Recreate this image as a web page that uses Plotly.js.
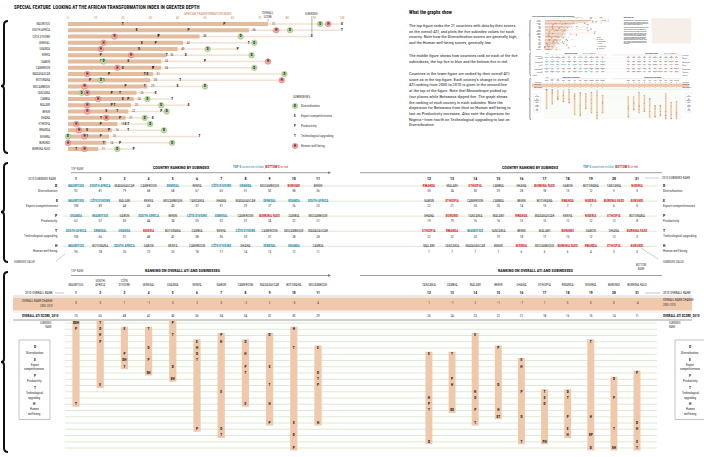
<!DOCTYPE html>
<html><head><meta charset="utf-8">
<script src="https://cdn.plot.ly/plotly-3.0.1.min.js"></script>
<style>
html,body{margin:0;padding:0;background:#fff;overflow:hidden;width:704px;height:457px}
#chart{position:absolute;left:0;top:0;width:704px;height:457px}
#thumb{position:absolute;left:529px;top:15px;width:704px;height:457px;transform:scale(0.2315);transform-origin:0 0}
</style></head>
<body><div id="chart"></div><div id="thumb"></div>
<script>
// ================= DATA =================
const countries = ["Mauritius","South Africa","Côte d'Ivoire","Senegal","Uganda","Kenya","Gabon","Cameroon","Madagascar","Botswana","Mozambique","Tanzania","Zambia","Malawi","Benin","Ghana","Ethiopia","Rwanda","Nigeria","Burundi","Burkina Faso"];
const headerLabels = ["MAURITIUS","SOUTH<br>AFRICA","CÔTE<br>D'IVOIRE","SENEGAL","UGANDA","KENYA","GABON","CAMEROON","MADAGASCAR","BOTSWANA","MOZAMBIQUE","TANZANIA","ZAMBIA","MALAWI","BENIN","GHANA","ETHIOPIA","RWANDA","NIGERIA","BURUNDI","BURKINA FASO"];
const overallScore = [73,66,48,42,40,36,34,34,31,30,29,25,24,23,22,21,18,16,15,14,11];
const rankChange = [0,0,1,-1,5,2,0,-2,2,-5,4,1,-1,2,-1,-7,1,5,0,0,-4];

// subindex rankings (rank order) and values
const dOrder = ["Mauritius","South Africa","Madagascar","Cameroon","Senegal","Kenya","Côte d'Ivoire","Uganda","Mozambique","Burundi","Benin","Rwanda","Malawi","Ethiopia","Zambia","Ghana","Burkina Faso","Gabon","Botswana","Tanzania","Nigeria"];
const dValues = [92,81,79,68,68,67,63,51,50,38,36,35,34,30,29,28,18,13,12,5,0];
const eOrder = ["Mauritius","Côte d'Ivoire","Malawi","Kenya","Mozambique","Tanzania","Ghana","Madagascar","Senegal","Uganda","South Africa","Gabon","Ethiopia","Cameroon","Zambia","Benin","Botswana","Rwanda","Nigeria","Burkina Faso","Burundi"];
const eValues = [100,89,44,43,40,32,31,29,27,26,25,22,21,20,20,14,13,7,7,6,0];
const pOrder = ["Uganda","Mauritius","Gabon","South Africa","Benin","Côte d'Ivoire","Senegal","Cameroon","Burkina Faso","Zambia","Mozambique","Ghana","Burundi","Tanzania","Malawi","Rwanda","Madagascar","Kenya","Nigeria","Ethiopia","Botswana"];
const pValues = [62,57,50,44,34,33,32,31,24,22,21,19,19,16,16,15,15,12,12,12,8];
const tOrder = ["South Africa","Senegal","Uganda","Nigeria","Botswana","Zambia","Kenya","Côte d'Ivoire","Cameroon","Mozambique","Madagascar","Ethiopia","Rwanda","Mauritius","Tanzania","Benin","Malawi","Burundi","Gabon","Ghana","Burkina Faso"];
const tValues = [100,66,51,48,41,38,36,33,31,28,28,22,22,20,19,18,17,13,12,12,3];
const hOrder = ["Mauritius","Botswana","South Africa","Gabon","Kenya","Cameroon","Côte d'Ivoire","Ghana","Senegal","Uganda","Zambia","Malawi","Tanzania","Madagascar","Benin","Nigeria","Mozambique","Burkina Faso","Rwanda","Ethiopia","Burundi"];
const hValues = [95,78,76,73,23,18,17,14,13,12,11,7,7,7,7,6,6,6,4,3,0];

const subLetters = ["D","E","P","T","H"];
const subNames = ["Diversification","Export competitiveness","Productivity","Technological upgrading","Human well-being"];
const axisTicks = [0,10,20,30,40,50,60,70,80,90,100];

// ================= HELPERS =================
const W = 704, H = 457;
const X = x => x / W, Y = y => 1 - y / H;
const ctx = document.createElement('canvas').getContext('2d');
const SAMPLE = 'The top figure ranks the 21 countries WITH DATA by their';
function tw(fam){ ctx.font = '40px ' + fam; return ctx.measureText(SAMPLE).width; }
function hasFont(n){ return tw('"' + n + '", monospace') !== tw('monospace'); }
const CANDS = ['Liberation Sans Narrow','Roboto Condensed','Open Sans Condensed','DejaVu Sans Condensed'];
const NARROW = CANDS.find(hasFont) || 'Liberation Sans';
let FS = 0.82 * tw('"Liberation Sans"') / tw('"' + NARROW + '"');
FS = Math.max(0.75, Math.min(1.1, FS));
const FAM = NARROW + ', Liberation Sans, sans-serif';
function F(size, color, weight){ return {family: FAM, size: size * FS, color: color || '#222', weight: weight || 'normal'}; }

const orders = [dOrder, eOrder, pOrder, tOrder, hOrder];
const values = [dValues, eValues, pValues, tValues, hValues];
const valueOf = (si, c) => values[si][orders[si].indexOf(c)];
const rankOf = (si, c) => orders[si].indexOf(c) + 1;
const top5 = new Set(countries.slice(0, 5));
const bottom5 = new Set(countries.slice(-5));
const BLUE = '#2b8fae', RED = '#d42a2f', TAN = '#e3bb9d', PALE = '#f4e0d1', BAR2 = '#f0c9ad', GREEN = '#d3e6c4';

function A(x, y, text, size, o){
  o = o || {};
  return Object.assign({xref:'paper', yref:'paper', x:X(x), y:Y(y), text:text, showarrow:false,
    font:F(size, o.color, o.weight), xanchor:o.xa || 'left', yanchor:o.ya || 'middle',
    align:o.align || 'left', borderpad:0}, o.extra || {});
}
function Ln(x0, y0, x1, y1, color, w){
  return {type:'line', xref:'paper', yref:'paper', x0:X(x0), y0:Y(y0), x1:X(x1), y1:Y(y1), line:{color:color, width:w}, layer:'below'};
}
function Arrow(x0, x1, y){
  return {xref:'paper', yref:'paper', axref:'paper', ayref:'paper', x:X(x1), y:Y(y), ax:X(x0), ay:Y(y),
    showarrow:true, arrowhead:2, arrowsize:0.8, arrowwidth:0.7, arrowcolor:'#777', text:' ', standoff:0};
}
function bracket(y0, ym, y1){
  const p = (x, y) => X(x).toFixed(5) + ',' + Y(y).toFixed(5);
  return {type:'path', xref:'paper', yref:'paper', line:{color:'#111', width:2},
    path:'M' + p(8, y0) + ' Q' + p(4, y0) + ' ' + p(4, y0 + 4) + ' L' + p(4, ym - 3) + ' Q' + p(4, ym) + ' ' + p(1, ym) +
      ' Q' + p(4, ym) + ' ' + p(4, ym + 3) + ' L' + p(4, y1 - 4) + ' Q' + p(4, y1) + ' ' + p(8, y1)};
}

function build(isThumb){
  const data = [];
  const ann = [];
  const shapes = [];
  const rows = countries.map((c, i) => i + 1);

  // ---------- TOP FIGURE ----------
  const maxVal = countries.map((c, i) => Math.max(overallScore[i], ...subLetters.map((s, si) => valueOf(si, c))));
  data.push({type:'bar', orientation:'h', x:maxVal, y:rows, width:0.22, marker:{color:PALE}, xaxis:'x', yaxis:'y'});
  data.push({type:'bar', orientation:'h', x:overallScore, y:rows, width:0.62, marker:{color:TAN}, xaxis:'x', yaxis:'y'});
  data.push({type:'scatter', mode:'text', x:overallScore.map(v => v + 1.9), y:rows, text:overallScore.map(String),
    textfont:F(3.4, '#444'), xaxis:'x', yaxis:'y', cliponaxis:false});
  data.push({type:'scatter', mode:'text', x:rows.map(() => -2.3), y:rows, text:rows.map(String),
    textfont:F(3.4, '#333'), xaxis:'x', yaxis:'y', cliponaxis:false});
  [1, 2, 3].forEach(si => {
    data.push({type:'scatter', mode:'text', x:countries.map(c => valueOf(si, c)), y:rows,
      text:rows.map(() => subLetters[si]), textfont:F(3.8, '#111', 'bold'), xaxis:'x', yaxis:'y', cliponaxis:false});
  });
  [[0, '#bcdca6', '#8fc178'], [4, '#f4a9a5', '#e1706b']].forEach(([si, fill, line]) => {
    data.push({type:'scatter', mode:'markers+text', x:countries.map(c => valueOf(si, c)), y:rows,
      text:rows.map(() => subLetters[si]), textfont:F(3.6, '#111', 'bold'),
      marker:{size:5.6, color:fill, line:{color:line, width:0.5}}, xaxis:'x', yaxis:'y', cliponaxis:false});
  });

  ann.push(A(13, 6.5, 'SPECIAL FEATURE  LOOKING AT THE AFRICAN TRANSFORMATION INDEX IN GREATER DEPTH', 5.3, {weight:'bold', color:'#111'}));
  ann.push(A(208, 13.5, 'AFRICAN TRANSFORMATION INDEX', 3.6, {xa:'center', color:'#c9834f'}));
  ann.push({xref:'x', yref:'y', x:overallScore[0], y:0.6, ax:0, ay:-7, text:'OVERALL<br>SCORE', showarrow:true,
    arrowhead:0, arrowwidth:0.5, arrowcolor:'#666', font:F(3.3, '#444'), standoff:0, borderpad:0});
  ann.push({xref:'x', yref:'y', x:valueOf(1, countries[2]), y:2.55, ax:0, ay:-20, text:'SUBINDEX', showarrow:true,
    arrowhead:0, arrowwidth:0.5, arrowcolor:'#666', font:F(3.3, '#444'), standoff:0, borderpad:0});
  // legend
  ann.push(A(292, 97, 'SUBINDEXES', 3.6, {color:'#333'}));
  subLetters.forEach((s, si) => {
    const y = 106 + si * 10;
    if (si === 0 || si === 4) shapes.push({type:'circle', xref:'paper', yref:'paper', x0:X(292.4), x1:X(297.8), y0:Y(y + 2.7), y1:Y(y - 2.7),
      fillcolor:si === 0 ? '#bcdca6' : '#f4a9a5', line:{color:si === 0 ? '#8fc178' : '#e1706b', width:0.5}});
    ann.push(A(295.1, y, s, 3.6, {xa:'center', weight:'bold', color:'#111'}));
    ann.push(A(299.5, y, subNames[si], 3.6, {color:'#333'}));
  });

  // ---------- TEXT BLOCK ----------
  ann.push(A(408, 12, 'What the graphs show', 5.2, {weight:'bold', color:'#111'}));
  ann.push(A(408, 34.3, 'The top figure ranks the 21 countries with data by their scores<br>on the overall ATI, and plots the five subindex values for each<br>country. Note how the Diversification scores are generally high,<br>and the Human well-being scores, generally low.', 4.7, {color:'#222'}));
  ann.push(A(408, 58.1, 'The middle figure shows how countries rank on each of the five<br>subindexes, the top five in blue and the bottom five in red.', 4.7, {color:'#222'}));
  ann.push(A(408, 99.3, 'Countries in the lower figure are ranked by their overall ATI<br>score as in the top figure. Each country’s change in overall<br>ATI ranking from 2000 to 2010 is given in the second line<br>at the top of the figure. Note that Mozambique picked up<br>four places while Botswana dipped five. The graph shows<br>the ranking of each country in each subindex. Note the<br>dispersion for Botswana from third on Human well-being to<br>last on Productivity increases. Also note the dispersion for<br>Nigeria—from fourth on Technological upgrading to last on<br>Diversification.', 4.7, {color:'#222'}));
  if (isThumb) shapes.push({type:'rect', xref:'paper', yref:'paper', x0:X(530), x1:X(700), y0:Y(122), y1:Y(14), fillcolor:'#f6eee8', line:{width:0}});

  // ---------- MIDDLE FIGURE ----------
  const legendSpan = '<span style="color:' + BLUE + '"><b>TOP 5</b> countries in blue,</span> <span style="color:' + RED + '"><b>BOTTOM 5</b> in red</span>';
  ann.push(A(70, 168.5, 'TOP RANK', 3.2, {color:'#555'}));
  ann.push(A(181, 167, 'COUNTRY RANKING BY SUBINDEX', 4.4, {xa:'center', weight:'bold', color:'#111'}));
  ann.push(A(232, 167, legendSpan, 3.6));
  ann.push(Arrow(68, 331, 172.7));
  ann.push(A(530, 167, 'COUNTRY RANKING BY SUBINDEX', 4.4, {xa:'center', weight:'bold', color:'#111'}));
  ann.push(A(582, 167, legendSpan, 3.6));
  shapes.push(Ln(360, 172.7, 662, 172.7, '#777', 0.7));
  ann.push(A(57, 179, '2010 SUBINDEX RANK', 3.4, {xa:'right', color:'#333'}));
  ann.push(A(661, 178, '2010 SUBINDEX RANK', 3.4, {color:'#333'}));
  shapes.push(Ln(645, 178, 659, 178, '#999', 0.5));
  const midY = i => 186 + 15.1 * i;
  subLetters.forEach((s, si) => {
    shapes.push(Ln(63, midY(si), 657, midY(si), GREEN, 0.8));
    ann.push(A(59, midY(si) - 0.5, s, 4.2, {xa:'right', weight:'bold', color:'#111'}));
    ann.push(A(59, midY(si) + 5, subNames[si], 3.7, {xa:'right', color:'#333'}));
    ann.push(A(662, midY(si) - 0.5, s, 4.2, {weight:'bold', color:'#111'}));
    ann.push(A(662, midY(si) + 5, subNames[si], 3.7, {color:'#333'}));
  });
  ann.push(A(13, 262, 'SUBINDEX VALUE', 3.2, {color:'#444'}));
  shapes.push(Ln(56, 261, 65, 254, '#999', 0.5));
  ann.push(A(662, 262, 'SUBINDEX VALUE', 3.2, {color:'#444'}));
  shapes.push(Ln(641, 248, 658, 259, '#999', 0.5));

  function midTraces(lo, hi, xa){
    const x = [], y = [], t = [], v = [], col = [];
    subLetters.forEach((s, si) => {
      for (let r = lo; r <= hi; r++) {
        const c = orders[si][r - 1];
        x.push(r); y.push(si);
        const nm = c.toUpperCase();
        if (top5.has(c)) { t.push('<b>' + nm + '</b>'); col.push(BLUE); }
        else if (bottom5.has(c)) { t.push('<b>' + nm + '</b>'); col.push(RED); }
        else { t.push(nm); col.push('#333'); }
        v.push(String(values[si][r - 1]));
      }
    });
    const rk = []; for (let r = lo; r <= hi; r++) rk.push(r);
    return [
      {type:'scatter', mode:'text', x:x, y:y, text:t, textfont:Object.assign(F(3.6), {color:col}), xaxis:xa, yaxis:'y2', cliponaxis:false},
      {type:'scatter', mode:'text', x:x, y:y.map(q => q + 0.36), text:v, textfont:F(3.6, '#333'), xaxis:xa, yaxis:'y2', cliponaxis:false},
      {type:'scatter', mode:'text', x:rk, y:rk.map(() => -0.46), text:rk.map(String), textfont:F(4.2, '#111', 'bold'), xaxis:xa, yaxis:'y2', cliponaxis:false}
    ];
  }
  data.push(...midTraces(1, 11, 'x2'), ...midTraces(12, 21, 'x3'));

  // ---------- BOTTOM FIGURE ----------
  ann.push(A(70, 271, 'TOP RANK', 3.2, {color:'#555'}));
  ann.push(A(183, 270, 'RANKING ON OVERALL ATI AND SUBINDEXES', 4.4, {xa:'center', weight:'bold', color:'#111'}));
  ann.push(Arrow(68, 331, 275.5));
  ann.push(A(536, 270, 'RANKING ON OVERALL ATI AND SUBINDEXES', 4.4, {xa:'center', weight:'bold', color:'#111'}));
  ann.push(A(641, 267, 'BOTTOM<br>RANK', 3.1, {xa:'center', align:'center', color:'#444'}));
  shapes.push(Ln(360, 275.5, 662, 275.5, '#777', 0.7));
  shapes.push({type:'rect', xref:'paper', yref:'paper', x0:X(13), x1:X(692), y0:Y(310.5), y1:Y(297.5), fillcolor:BAR2, line:{width:0}, layer:'below'});
  shapes.push(Ln(13, 296, 692, 296, '#bbb', 0.6));
  shapes.push(Ln(13, 312, 692, 312, '#ccc', 0.5));
  shapes.push(Ln(13, 320, 692, 320, '#888', 0.8));
  ann.push(A(54, 293, '2010 OVERALL RANK', 3.5, {xa:'right', color:'#222'}));
  shapes.push(Ln(55, 293, 64, 293, '#888', 0.5));
  ann.push(A(54, 300.5, 'OVERALL RANK CHANGE', 3.3, {xa:'right', color:'#333'}));
  ann.push(A(54, 305.5, '2000–2010', 3, {xa:'right', color:'#333'}));
  ann.push(A(60, 316, 'OVERALL ATI SCORE, 2010', 3.6, {xa:'right', weight:'bold', color:'#111'}));
  ann.push(A(662, 293, '2010 OVERALL RANK', 3.5, {color:'#222'}));
  shapes.push(Ln(645, 293, 660, 293, '#888', 0.5));
  ann.push(A(662, 299.5, 'OVERALL RANK CHANGE', 3.3, {color:'#333'}));
  ann.push(A(662, 304.5, '2000–2010', 3, {color:'#333'}));
  ann.push(A(662, 316, 'OVERALL ATI SCORE, 2010', 3.6, {weight:'bold', color:'#111'}));
  ann.push(A(53, 324.5, 'SUBINDEX<br>RANK', 3, {xa:'right', align:'right', color:'#444'}));
  ann.push(A(668, 324.5, 'SUBINDEX<br>RANK', 3, {color:'#444'}));
  const subRanks = countries.map((c, i) => i + 1);
  subRanks.forEach(r => shapes.push({type:'line', xref:'paper', yref:'y4', x0:X(65), x1:X(657), y0:r, y1:r, line:{color:GREEN, width:0.8}, layer:'below'}));

  function bottomTraces(idx, xa, leftX, rightX){
    const xs = idx.map(i => i + 1);
    const ranks = idx.map(i => subLetters.map((s, si) => rankOf(si, countries[i])));
    const mins = ranks.map(r => Math.min(...r)), maxs = ranks.map(r => Math.max(...r));
    const lx = [], ly = [], lt = [];
    idx.forEach((i, k) => {
      const by = {};
      ranks[k].forEach((r, si) => { by[r] = (by[r] || '') + subLetters[si]; });
      Object.keys(by).forEach(r => { lx.push(i + 1); ly.push(+r); lt.push(by[r]); });
    });
    const out = [
      {type:'bar', x:xs, y:maxs.map((m, k) => m - mins[k] + 0.8), base:mins.map(m => m - 0.4), width:0.3, marker:{color:BAR2}, xaxis:xa, yaxis:'y4'},
      {type:'scatter', mode:'text', x:lx, y:ly, text:lt, textfont:F(3.8, '#111', 'bold'), xaxis:xa, yaxis:'y4', cliponaxis:false},
      {type:'scatter', mode:'text', x:xs, y:xs.map(() => -4.75), text:idx.map(i => headerLabels[i]), textposition:'top center', textfont:F(3.5, '#333'), xaxis:xa, yaxis:'y4', cliponaxis:false},
      {type:'scatter', mode:'text', x:xs, y:xs.map(() => -3.8), text:idx.map(i => String(i + 1)), textfont:F(3.9, '#111', 'bold'), xaxis:xa, yaxis:'y4', cliponaxis:false},
      {type:'scatter', mode:'text', x:xs, y:xs.map(() => -2.15), text:idx.map(i => rankChange[i] < 0 ? '−' + Math.abs(rankChange[i]) : String(rankChange[i])), textfont:F(3.5, '#333'), xaxis:xa, yaxis:'y4', cliponaxis:false},
      {type:'scatter', mode:'text', x:xs, y:xs.map(() => -0.12), text:idx.map(i => String(overallScore[i])), textfont:F(3.5, '#222'), xaxis:xa, yaxis:'y4', cliponaxis:false}
    ];
    if (leftX !== null) out.push({type:'scatter', mode:'text', x:subRanks.map(() => leftX), y:subRanks, text:subRanks.map(String), textfont:F(3.2, '#444'), xaxis:xa, yaxis:'y4', cliponaxis:false});
    if (rightX !== null) out.push({type:'scatter', mode:'text', x:subRanks.map(() => rightX), y:subRanks, text:subRanks.map(String), textfont:F(3.2, '#444'), xaxis:xa, yaxis:'y4', cliponaxis:false});
    return out;
  }
  const leftIdx = countries.map((c, i) => i).slice(0, 11), rightIdx = countries.map((c, i) => i).slice(11);
  data.push(...bottomTraces(leftIdx, 'x4', 0.38, null), ...bottomTraces(rightIdx, 'x5', null, 22.13));

  // legend boxes
  const boxLines = [['<b>D</b>', 347], ['Diversification', 352.5], ['<b>E</b>', 360], ['Export', 364.5], ['competitiveness', 369],
    ['<b>P</b>', 376], ['Productivity', 381], ['<b>T</b>', 387.5], ['Technological', 392.5], ['upgrading', 397.5],
    ['<b>H</b>', 403.5], ['Human', 408.5], ['well-being', 413.5]];
  [[19, 50, 34.5], [675, 712, 690]].forEach(([x0, x1, cx]) => {
    shapes.push({type:'rect', xref:'paper', yref:'paper', x0:X(x0), x1:X(x1), y0:Y(419.5), y1:Y(340), line:{color:'#999', width:0.6}, fillcolor:'rgba(0,0,0,0)'});
    boxLines.forEach(([t, y]) => ann.push(A(cx, y, t, t.startsWith('<b>') ? 4 : 3.3, {xa:'center', color:'#222'})));
  });

  // brackets
  shapes.push(bracket(21, 86, 153), bracket(163, 212, 262), bracket(272, 362, 452));

  const hid = {visible:false, fixedrange:true};
  const layout = {
    width:W, height:H, margin:{l:0, r:0, t:0, b:0, pad:0}, paper_bgcolor:'#fff', plot_bgcolor:'rgba(0,0,0,0)',
    showlegend:false, barmode:'overlay', font:{family:FAM},
    xaxis:{domain:[X(68), X(342)], range:[0, 100], side:'top', anchor:'y', tickmode:'array', tickvals:axisTicks,
      ticktext:axisTicks.map(String), tickfont:F(3.6, '#cf8a55'), ticks:'', showgrid:false, zeroline:false, showline:false},
    yaxis:{domain:[Y(152.125), Y(20.875)], range:[21.5, 0.5], anchor:'x', tickmode:'array', tickvals:rows,
      ticktext:countries.map(c => c.toUpperCase()), tickfont:F(3.2, '#333'), ticks:'', showgrid:false, zeroline:false, showline:false,
      ticklabelstandoff:17, fixedrange:true},
    xaxis2:Object.assign({domain:[X(63.9), X(330.1)], range:[0.5, 11.5], anchor:'y2'}, hid),
    xaxis3:Object.assign({domain:[X(417.4), X(648.6)], range:[11.5, 21.5], anchor:'y2'}, hid),
    yaxis2:Object.assign({domain:[Y(258.5), Y(158.8)], range:[4.8, -1.8], anchor:'x2'}, hid),
    xaxis4:Object.assign({domain:[X(63.9), X(330.1)], range:[0.5, 11.5], anchor:'y4'}, hid),
    xaxis5:Object.assign({domain:[X(417.4), X(648.6)], range:[11.5, 21.5], anchor:'y4'}, hid),
    yaxis4:Object.assign({domain:[Y(454.25), Y(276.125)], range:[22, -6.5], anchor:'x4'}, hid),
    annotations:ann, shapes:shapes
  };
  return {data:data, layout:layout};
}

const main = build(false);
Plotly.newPlot('chart', main.data, main.layout, {staticPlot:true, displayModeBar:false});
const th = build(true);
Plotly.newPlot('thumb', th.data, th.layout, {staticPlot:true, displayModeBar:false});
</script>
</body></html>
